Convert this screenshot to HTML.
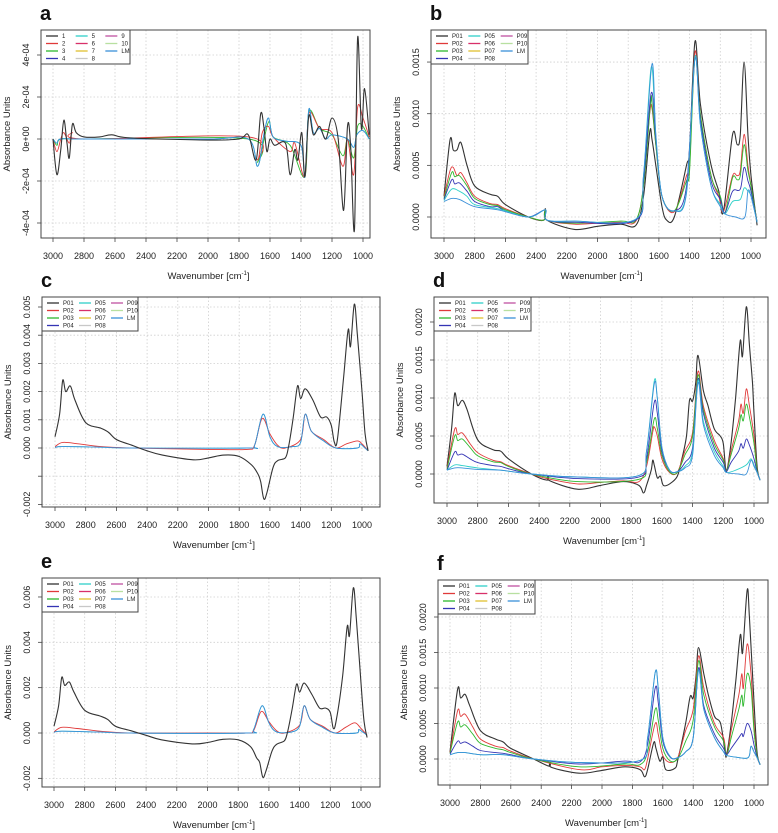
<!DOCTYPE html>
<html><head><meta charset="utf-8"><style>
body{margin:0;background:#fff}
svg{display:block;font-family:"Liberation Sans",sans-serif}
</style></head><body>
<svg id="fig" width="778" height="833" viewBox="0 0 778 833"></svg>
<script>
// ---- data (values in panel units: a,b,d,f = 1e-4 ; c,e = 1e-3) ----
const aX1=[3000,2975,2950,2930,2910,2895,2875,2850,2800,2700,2620,2500,2000,1800,1740,1690,1660,1640,1620,1600,1570,1500,1470,1440,1420,1395,1375,1350,1320,1280,1240,1200,1160,1125,1100,1080,1055,1035,1010,990,960];
const aY1=[0,-1.7,-0.5,0.9,-0.2,-0.9,0.7,0.3,0.1,0.1,0.2,0.05,-0.05,0,0.2,-1,1.2,0.6,-0.6,0,-0.3,-0.2,-1.7,-0.5,-1,0.3,-1.8,1.1,0.2,0.6,0,1,0,-3.4,0.6,-0.3,-4.3,4.8,0.5,2.4,0.2];
const aX2=[3000,2975,2950,2930,2895,2875,2800,1740,1680,1650,1610,1580,1470,1440,1375,1350,1280,1200,1130,1100,1060,1035,1000,960];
const aY2=[0,-0.6,0,0.3,-0.2,0.3,0,0.1,-1,0.3,0.6,0.1,-0.6,-0.2,-1.8,1.2,0.5,0.3,-1.3,0,-1.7,1.5,1,0.1];
const aX3=[3000,2975,2950,2800,1740,1680,1610,1580,1470,1375,1350,1280,1200,1130,1100,1060,1035,1000,960];
const aY3=[0,-0.3,0,0,0,-1.1,0.8,0.1,-0.3,-1.8,1.3,0.5,0.2,-0.8,0,-0.9,0.6,0.6,0];
const aXL=[3000,2975,2950,2800,2000,1740,1680,1640,1610,1580,1500,1400,1375,1350,1320,1280,1240,1200,1100,1060,1040,1000,960];
const aYL=[0,-0.2,0,0,0,0,-1.3,0.2,1,0.1,-0.1,-0.3,-1.8,1.4,0.3,0.5,0,0.2,0,-0.4,0.2,0.4,0];

const bX1=[3000,2960,2940,2915,2890,2850,2800,2700,2650,2600,2450,2350,2340,2330,2150,2000,1850,1750,1700,1660,1645,1620,1580,1550,1500,1420,1400,1365,1330,1260,1210,1180,1120,1090,1070,1045,1020,1000,960];
const bY1=[2,7.5,6.5,6.5,7.2,5,3,2.2,2,1.2,0,-0.3,0.8,-0.3,-1.2,-0.9,-0.7,-0.8,2,8.2,7.5,5,1,-0.3,0,5,6.5,17,11,5,2.5,0.5,8,7,8,15,8,4,-0.8];
const bX2=[3000,2960,2940,2915,2890,2850,2800,2700,2650,2600,2450,2350,2340,2330,2150,2000,1850,1750,1700,1660,1645,1620,1580,1500,1420,1400,1365,1330,1260,1210,1180,1120,1090,1070,1045,1020,1000,960];
const bY2=[2,4.5,4.8,4,4.3,3.3,2,1.3,1.2,0.8,0,-0.3,0.7,-0.3,-0.7,-0.6,-0.5,-0.4,3,10,10.5,7,2,0.5,4,5,16,10,4,2,0.5,4,4,4.5,8,5,3,-0.5];
const bX3=[3000,2950,2930,2900,2850,2800,2700,2650,2600,2450,2350,2340,2330,2150,1850,1750,1700,1655,1645,1620,1580,1500,1420,1400,1365,1330,1260,1200,1170,1120,1090,1070,1045,1020,1000,960];
const bY3=[1.8,4.3,3.9,4,3,1.8,1.2,1.1,0.7,0,-0.3,0.7,-0.3,-0.6,-0.4,-0.3,3,11,11,7,2,0.6,3.5,4.5,15.5,10,4,2,0.4,3.8,3.6,4,7,4.5,3,-0.5];
const bX4=[3000,2950,2930,2900,2850,2800,2700,2650,2600,2450,2340,2330,2150,1750,1700,1650,1620,1580,1500,1420,1365,1330,1260,1200,1170,1120,1070,1045,1020,1000,960];
const bY4=[1.7,3.6,3.2,3.3,2.5,1.5,1,1,0.6,0,0.7,-0.3,-0.5,-0.3,3.5,12,7.5,2,0.6,3,15.5,9.5,3.5,1.7,0.4,2.5,2.7,4.8,3.5,2.5,-0.5];
const bX5=[3000,2950,2900,2850,2800,2650,2450,2340,2330,2150,1750,1700,1650,1620,1580,1500,1420,1365,1330,1260,1200,1170,1120,1070,1045,1020,1000,960];
const bY5=[1.6,2.7,2.5,2,1.2,0.8,0,0.7,-0.3,-0.4,-0.2,4,14.5,8,2,0.6,2.5,15.5,9,3,1.2,0.3,1.5,1.7,2.8,2.5,2,-0.5];
const bXL=[3000,2950,2900,2800,2650,2450,2340,2330,2150,1750,1700,1645,1620,1580,1500,1420,1365,1330,1260,1200,1170,1100,1040,1020,1000,960];
const bYL=[1.5,1.8,1.7,1,0.7,0,0.7,-0.3,-0.4,-0.2,4,14.8,8,2,0.6,2.3,15.3,9,3,1,0.3,0,0,2.5,2,-0.5];

const cX1=[3000,2970,2950,2930,2900,2870,2800,2700,2650,2600,2500,2400,2300,2100,2000,1900,1800,1720,1680,1660,1640,1620,1580,1550,1500,1480,1450,1420,1400,1370,1320,1270,1230,1200,1180,1160,1120,1090,1075,1050,1030,1000,980,960];
const cY1=[0.4,1.2,2.4,2.0,2.2,1.7,0.9,0.7,0.55,0.3,0.1,-0.1,-0.25,-0.42,-0.35,-0.25,-0.3,-0.6,-0.9,-1.2,-1.8,-1.6,-0.7,-0.45,-0.35,0,1.0,2.2,1.75,2.1,1.7,1.1,1.1,0.8,0.2,0.3,2.5,4.2,3.6,5.1,4,2,0.5,-0.1];
const cX2=[3000,2950,2850,2700,2500,2000,1750,1700,1650,1600,1550,1500,1400,1370,1330,1250,1170,1100,1030,1000,960];
const cY2=[0.05,0.2,0.15,0.05,0,-0.05,-0.05,0.1,1.05,0.5,0.1,0,0.3,1.2,0.6,0.3,0,0.15,0.25,0.15,-0.1];
const cXL=[3000,2950,2700,2500,1750,1700,1645,1600,1550,1450,1400,1370,1330,1250,1170,1030,1015,990,960];
const cYL=[0.02,0.05,0.03,0,0,0.1,1.2,0.4,0.05,0.05,0.2,1.2,0.6,0.25,0,0,0.15,0.05,-0.1];

const dX1=[3000,2970,2950,2930,2900,2870,2800,2700,2650,2600,2450,2350,2340,2330,2150,2000,1850,1750,1720,1700,1670,1660,1650,1630,1610,1590,1550,1500,1470,1440,1420,1400,1380,1365,1330,1300,1260,1220,1200,1180,1150,1120,1090,1075,1050,1030,1010,1000,980,960];
const dY1=[1,6,10.6,9,9.7,8.5,4.5,3.2,3,2,0,-0.8,-0.2,-0.9,-2,-1.5,-1,-1.5,-2.5,-1.5,0.5,1.8,1.2,-0.5,-0.3,-1.5,-1.3,-0.3,2,5,9.7,9.6,12,15.6,11,9,6,5,4,0.5,4,10,17.5,15.5,22,17,12,8,1,-0.8];
const dX2=[3000,2950,2930,2900,2850,2800,2700,2650,2600,2450,2350,2150,2000,1850,1750,1700,1660,1650,1630,1600,1550,1500,1450,1400,1365,1330,1260,1200,1180,1150,1100,1085,1070,1050,1030,1000,980,960];
const dY2=[0.8,5.9,5.2,5.4,4,2.8,1.8,1.6,1.1,0,-0.6,-1.3,-1.1,-0.9,-1,1,5.5,6.2,5,2,0.2,0.2,3,5.5,13.5,9,4.5,2,0.3,3,7,9.2,8,11.2,9,5,0.5,-0.8];
const dX3=[3000,2950,2930,2900,2850,2800,2700,2650,2600,2450,2150,1750,1700,1650,1630,1600,1550,1500,1450,1400,1365,1330,1260,1200,1180,1150,1100,1085,1070,1050,1030,1000,980,960];
const dY3=[0.6,5,4.4,4.6,3.5,2.4,1.6,1.5,1,0,-1,-0.7,1.5,7.2,6,2.5,0.3,0.2,2.5,5,13,8.5,4,1.8,0.3,2.5,6,7.8,7,9.2,7.5,4,0.5,-0.8];
const dX4=[3000,2950,2930,2900,2850,2800,2700,2650,2600,2450,2150,1750,1700,1650,1630,1600,1550,1500,1450,1400,1365,1330,1260,1200,1180,1150,1100,1085,1070,1050,1030,1000,980,960];
const dY4=[0.5,2.9,2.5,2.6,2,1.5,1.1,1,0.7,0,-0.6,-0.4,2,9.4,8,3,0.5,0.3,1.5,3.5,12.5,8,3.5,1.5,0.3,1.5,3,4,3.4,4.6,3.8,2,0.3,-0.8];
const dX5=[3000,2950,2900,2800,2650,2450,2150,1750,1700,1650,1630,1600,1550,1500,1450,1400,1365,1330,1260,1200,1180,1120,1050,1020,1000,980,960];
const dY5=[0.5,1.2,1.1,0.8,0.5,0,-0.4,-0.2,3,12.2,10,3.5,0.5,0.3,1,3,12.3,7,3,1,0.2,0.5,1.2,2,1.2,0.2,-0.8];
const dXL=[3000,2950,2900,2800,2650,2450,2150,1750,1700,1650,1630,1600,1550,1500,1450,1400,1365,1330,1260,1200,1180,1100,1050,1020,1000,980,960];
const dYL=[0.5,0.8,0.8,0.6,0.5,0,-0.4,-0.2,3,11.8,10,3.5,0.5,0.3,0.8,2.5,12,6.5,2.5,0.8,0.2,0,0,1.8,1,0.2,-0.8];

const eX1=[3000,2970,2950,2930,2900,2870,2800,2700,2650,2600,2500,2400,2300,2100,2000,1900,1800,1720,1680,1660,1640,1620,1580,1550,1500,1480,1450,1420,1400,1370,1320,1270,1230,1200,1180,1160,1120,1090,1075,1050,1030,1000,980,960];
const eY1=[0.3,1.2,2.45,2.1,2.25,1.8,1.0,0.75,0.6,0.3,0.1,-0.1,-0.3,-0.48,-0.42,-0.28,-0.3,-0.6,-1.1,-1.3,-1.95,-1.7,-0.8,-0.5,-0.35,0,1.0,2.15,1.8,2.2,1.7,1.1,1.1,0.9,0.2,0.6,2.5,4.7,4.3,6.4,5,2.2,0.5,-0.2];
const eX2=[3000,2950,2850,2700,2500,2000,1750,1700,1650,1600,1550,1500,1400,1370,1330,1250,1170,1100,1040,1000,960];
const eY2=[0.05,0.25,0.2,0.08,0,0,0,0.1,0.95,0.5,0.1,0,0.35,1.2,0.6,0.3,0,0.25,0.45,0.2,-0.1];
const eXL=[3000,2950,2700,2500,1750,1700,1645,1600,1550,1450,1400,1370,1330,1250,1170,1030,1015,990,960];
const eYL=[0.03,0.08,0.04,0,0,0.15,1.2,0.45,0.05,0.05,0.3,1.2,0.6,0.25,0,0,0.15,0.05,-0.1];

const fX1=[3000,2950,2930,2900,2870,2800,2700,2650,2600,2450,2350,2340,2330,2150,2000,1850,1750,1720,1700,1660,1645,1620,1600,1580,1520,1500,1450,1420,1400,1380,1365,1330,1300,1260,1220,1190,1180,1150,1120,1090,1075,1045,1030,1000,980,960];
const fY1=[1,9.8,8.6,9.1,7.5,4,2.8,2.4,1.5,0,-1,-0.5,-1.2,-2,-1.6,-1.1,-1.5,-2.5,-1.5,2.3,1.5,-0.3,0.3,-1.5,-1.3,0,5,8.8,8.6,12,15.7,12,9,6,5,1,0.6,5,11,17.5,15,23.8,20,8,1,-0.8];
const fX2=[3000,2950,2930,2900,2850,2800,2700,2650,2600,2450,2150,2000,1850,1750,1720,1700,1650,1630,1600,1550,1500,1450,1400,1365,1330,1260,1200,1180,1150,1100,1080,1070,1045,1020,1000,980,960];
const fY2=[0.9,6.8,6,6.3,4.5,2.8,1.8,1.6,1.1,0,-1.5,-1.1,-0.9,-1.1,-1.5,0,5,3.5,0.5,-0.5,0.3,4,7,14.5,10,5,3,0.5,4,9,12,10,16.2,12,5,0.5,-0.8];
const fX3=[3000,2950,2930,2900,2850,2800,2700,2650,2600,2450,2150,1850,1750,1700,1650,1630,1600,1550,1500,1450,1400,1365,1330,1260,1200,1180,1150,1100,1080,1070,1045,1020,1000,980,960];
const fY3=[0.8,5.2,4.5,4.8,3.5,2.2,1.5,1.3,0.9,0,-1.1,-0.7,-0.8,1,7,5.5,1.5,-0.3,0.1,2.5,5.5,13.8,9,4.5,2.5,0.5,3,7,9,7.5,12,10,4,0.5,-0.8];
const fX4=[3000,2950,2930,2900,2850,2800,2700,2650,2600,2450,2150,1850,1750,1700,1650,1630,1600,1550,1500,1450,1400,1365,1330,1260,1200,1180,1150,1100,1080,1070,1045,1020,1000,980,960];
const fY4=[0.7,2.5,2.2,2.4,1.8,1.2,0.9,0.8,0.6,0,-0.7,-0.3,-0.4,2,10,8,2.5,0.2,0.2,1,3,12.8,7.5,3.5,1.5,0.6,1.5,3,3.6,3.2,5,4,2,0.3,-0.8];
const fX5=[3000,2950,2900,2800,2650,2450,2150,1750,1700,1650,1630,1600,1550,1500,1450,1400,1365,1330,1260,1200,1180,1100,1050,1030,1020,1000,980,960];
const fY5=[0.6,0.9,0.9,0.6,0.6,0,-0.5,-0.2,3,12.2,10,3,0.3,0.2,1,3,12.5,7,3,1,0.5,0.2,0.1,0.5,1.8,1,0.2,-0.8];

const xTicks=[3000,2800,2600,2400,2200,2000,1800,1600,1400,1200,1000];
const legendLabelsA=["1","2","3","4","5","6","7","8","9","10","LM"];
const legendLabelsP=["P01","P02","P03","P04","P05","P06","P07","P08","P09","P10","LM"];
const legendColors=["#333333","#e03a3a","#2eb82e","#3434b4","#30d0c8","#d8306a","#e0c030","#c8c8c8","#c050a0","#b8e0a0","#3a90d8"];

const aTicks=[-4,-2,0,2,4], aTickLabels=["-4e-04","-2e-04","0e+00","2e-04","4e-04"];
const bTicks=[0,5,10,15], bTickLabels=["0.0000","0.0005","0.0010","0.0015"];
const cTicks=[-2,-1,0,1,2,3,4,5], cTickLabels=["-0.002","","0.000","0.001","0.002","0.003","0.004","0.005"];
const dTicks=[0,5,10,15,20], dTickLabels=["0.0000","0.0005","0.0010","0.0015","0.0020"];
const eTicks=[-2,0,2,4,6], eTickLabels=["-0.002","0.000","0.002","0.004","0.006"];
const fTicks=[0,5,10,15,20], fTickLabels=["0.0000","0.0005","0.0010","0.0015","0.0020"];

const NS="http://www.w3.org/2000/svg";
const svg=document.getElementById('fig');
function mk(tag,attrs,parent){const e=document.createElementNS(NS,tag);for(const k in attrs)e.setAttribute(k,attrs[k]);(parent||svg).appendChild(e);return e;}
function smooth(P){
 let d='M'+P[0][0].toFixed(1)+','+P[0][1].toFixed(1);
 for(let i=0;i<P.length-1;i++){
  const p0=P[i-1]||P[i],p1=P[i],p2=P[i+1],p3=P[i+2]||P[i+1];
  const t=0.4/1.0/3*1.0*1.0;
  const c1x=p1[0]+(p2[0]-p0[0])/6,c1y=p1[1]+(p2[1]-p0[1])/6;
  const c2x=p2[0]-(p3[0]-p1[0])/6,c2y=p2[1]-(p3[1]-p1[1])/6;
  d+=`C${c1x.toFixed(1)},${c1y.toFixed(1)} ${c2x.toFixed(1)},${c2y.toFixed(1)} ${p2[0].toFixed(1)},${p2[1].toFixed(1)}`;
 }
 return d;
}

const panels=[
 {id:'a',box:[41,30,370,238],x3:53,x1:363,y0:139,ppu:21,ticks:aTicks,tl:aTickLabels,leg:legendLabelsA,lw:89,
  series:[[aX3,aY3,2],[aX2,aY2,1],[aXL,aYL,4],[aXL,aYL,10],[aX1,aY1,0]]},
 {id:'b',box:[431,30,766,238],x3:444,x1:751,y0:217,ppu:10.33,ticks:bTicks,tl:bTickLabels,leg:legendLabelsP,lw:97,
  series:[[bX1,bY1,0],[bX2,bY2,1],[bX3,bY3,2],[bX4,bY4,3],[bX5,bY5,4],[bXL,bYL,10]]},
 {id:'c',box:[42,297,380,507],x3:55,x1:362,y0:448,ppu:28.2,ticks:cTicks,tl:cTickLabels,leg:legendLabelsP,lw:96,
  series:[[cXL,cYL,4],[cX2,cY2,1],[cXL,cYL,10],[cX1,cY1,0]]},
 {id:'d',box:[434,297,768,503],x3:447,x1:754,y0:474,ppu:7.6,ticks:dTicks,tl:dTickLabels,leg:legendLabelsP,lw:97,
  series:[[dX1,dY1,0],[dX2,dY2,1],[dX3,dY3,2],[dX4,dY4,3],[dX5,dY5,4],[dXL,dYL,10]]},
 {id:'e',box:[42,578,380,787],x3:54,x1:361,y0:733,ppu:22.67,ticks:eTicks,tl:eTickLabels,leg:legendLabelsP,lw:96,
  series:[[eXL,eYL,4],[eX2,eY2,1],[eXL,eYL,10],[eX1,eY1,0]]},
 {id:'f',box:[438,580,768,785],x3:450,x1:754,y0:759,ppu:7.1,ticks:fTicks,tl:fTickLabels,leg:legendLabelsP,lw:97,
  series:[[fX1,fY1,0],[fX2,fY2,1],[fX3,fY3,2],[fX4,fY4,3],[fX5,fY5,4],[fX5,fY5,10]]}
];

panels.forEach(p=>{
 const [L,T,R,B]=p.box;
 const xs=w=>p.x3+(3000-w)/2000*(p.x1-p.x3);
 const ys=v=>p.y0-v*p.ppu;
 const g=mk('g',{});
 
 
 const letter=mk('text',{x:L-1,y:T-10,'font-size':20,'font-weight':'bold',fill:'#111'},g);
 letter.textContent=p.id;
 
 
 xTicks.forEach(w=>{const l=mk('line',{x1:xs(w),x2:xs(w),y1:T,y2:B,stroke:'#cfcfcf','stroke-width':0.8,'stroke-dasharray':'1.5,2'},g);
  });
 p.ticks.forEach(v=>{const l=mk('line',{x1:L,x2:R,y1:ys(v),y2:ys(v),stroke:'#cfcfcf','stroke-width':0.8,'stroke-dasharray':'1.5,2'},g);
  });
 const clipId='clip'+p.id;
 const cp=mk('clipPath',{id:clipId},g);mk('rect',{x:L,y:T,width:R-L,height:B-T},cp);
 p.series.forEach(s=>{
  const P=s[0].map((w,i)=>[xs(w),ys(s[1][i])]);
  const pl=mk('path',{d:smooth(P),fill:'none',stroke:legendColors[s[2]],'stroke-width':s[2]===0?1.1:0.9,'stroke-linejoin':'round','clip-path':'url(#'+clipId+')'},g);
  
  
 });
 const bx=mk('rect',{x:L,y:T,width:R-L,height:B-T,fill:'none',stroke:'#444','stroke-width':1},g);
 
 xTicks.forEach(w=>{mk('line',{x1:xs(w),x2:xs(w),y1:B,y2:B+4,stroke:'#444','stroke-width':0.8},g);
  const t=mk('text',{x:xs(w),y:B+21,'font-size':9,'text-anchor':'middle',fill:'#222'},g);t.textContent=w;
  });
 const xt=mk('text',{x:(L+R)/2+3,y:B+41,'font-size':9.5,'text-anchor':'middle',fill:'#222'},g);
 xt.innerHTML='Wavenumber  [cm<tspan font-size="6" dy="-4">-1</tspan><tspan dy="4">]</tspan>';
 
 p.ticks.forEach((v,i)=>{mk('line',{x1:L-4,x2:L,y1:ys(v),y2:ys(v),stroke:'#444','stroke-width':0.8},g);
  if(!p.tl[i])return;
  const t=mk('text',{x:L-12,y:ys(v),'font-size':9,'text-anchor':'middle',fill:'#222',transform:`rotate(-90 ${L-12} ${ys(v)})`},g);
  t.textContent=p.tl[i];});
 const yx=L-31, yy=(T+B)/2;
 const yt=mk('text',{x:yx,y:yy,'font-size':9.5,'text-anchor':'middle',fill:'#222',transform:`rotate(-90 ${yx} ${yy})`},g);
 yt.textContent='Absorbance Units';
 const lg=mk('g',{},g);
 
 mk('rect',{x:L,y:T,width:p.lw,height:34,fill:'#fff',stroke:'#444','stroke-width':1},lg);
 p.leg.forEach((lab,i)=>{
  const col=Math.floor(i/4), row=i%4;
  const cx=L+5+col*(p.lw/3), cy=T+6+row*7.5;
  mk('line',{x1:cx,x2:cx+12,y1:cy,y2:cy,stroke:legendColors[i],'stroke-width':1.3},lg);
  const t=mk('text',{x:cx+16,y:cy+2,'font-size':6,fill:'#222'},lg);t.textContent=lab;
  
 });
});
</script>
</body></html>
